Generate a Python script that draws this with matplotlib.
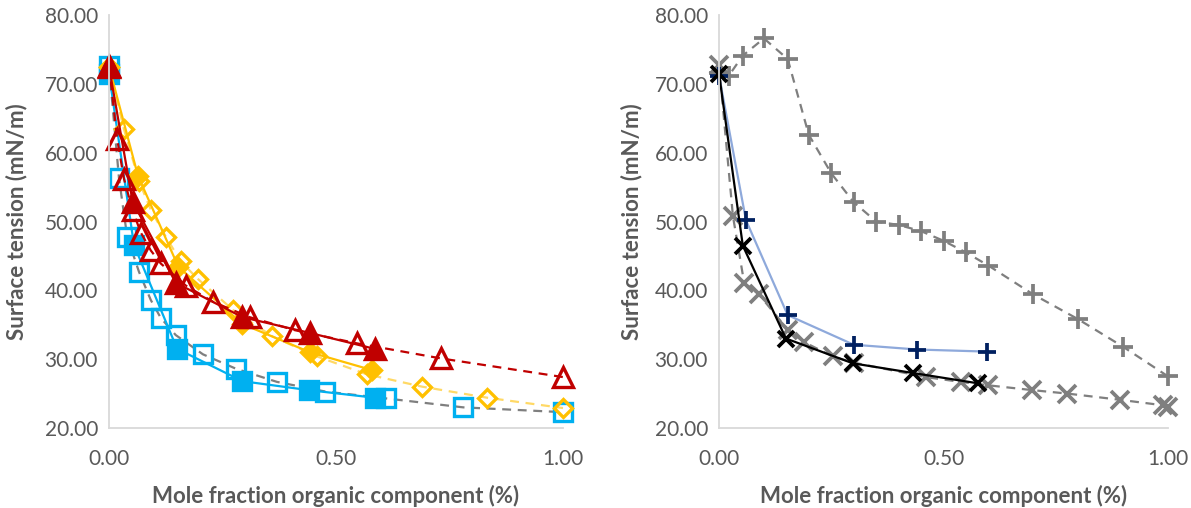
import matplotlib.pyplot as plt
from matplotlib.ticker import FormatStrFormatter

plt.rcParams['font.family'] = ['Lato', 'DejaVu Sans']

# ---- left panel data ----
blue_open_x = [0.0, 0.022, 0.04, 0.066, 0.092, 0.114, 0.147, 0.207, 0.28, 0.37, 0.476, 0.61, 0.78, 1.0]
blue_open_y = [72.6, 56.3, 47.8, 42.7, 38.6, 36.0, 33.5, 30.7, 28.6, 26.7, 25.3, 24.3, 23.0, 22.3]
blue_fill_x = [0.0, 0.055, 0.15, 0.294, 0.44, 0.585]
blue_fill_y = [71.5, 46.6, 31.5, 26.8, 25.5, 24.4]

gold_open_x = [0.0, 0.033, 0.066, 0.092, 0.125, 0.158, 0.195, 0.274, 0.36, 0.458, 0.568, 0.69, 0.833, 1.0]
gold_open_y = [72.5, 63.4, 55.9, 51.7, 47.8, 44.2, 41.7, 37.1, 33.3, 30.4, 27.8, 26.0, 24.4, 22.9]
gold_fill_x = [0.0, 0.064, 0.153, 0.294, 0.443, 0.58]
gold_fill_y = [72.5, 56.6, 43.4, 35.1, 31.0, 28.4]

red_open_x = [0.0, 0.018, 0.033, 0.052, 0.07, 0.092, 0.114, 0.169, 0.23, 0.31, 0.41, 0.546, 0.732, 1.0]
red_open_y = [72.6, 62.0, 56.2, 51.6, 48.4, 45.8, 43.9, 40.7, 38.3, 36.1, 34.2, 32.3, 30.1, 27.4]
red_fill_x = [0.0, 0.052, 0.147, 0.294, 0.443, 0.585]
red_fill_y = [72.5, 52.9, 41.1, 36.1, 33.8, 31.5]

# ---- right panel data ----
plus_gray_x = [0.0, 0.022, 0.053, 0.1, 0.153, 0.2, 0.25, 0.3, 0.35, 0.4, 0.45, 0.5, 0.55, 0.6, 0.7, 0.8, 0.9, 1.0]
plus_gray_y = [71.6, 71.2, 74.1, 76.6, 73.6, 62.6, 57.0, 52.8, 50.0, 49.5, 48.6, 47.2, 45.5, 43.6, 39.4, 35.8, 31.8, 27.5]
x_gray_x = [0.0, 0.031, 0.056, 0.089, 0.153, 0.189, 0.253, 0.3, 0.46, 0.538, 0.6, 0.698, 0.776, 0.893, 0.989, 1.0]
x_gray_y = [72.8, 50.8, 41.1, 39.4, 34.3, 32.5, 30.4, 29.5, 27.4, 26.7, 26.2, 25.5, 25.0, 24.1, 23.3, 23.0]
plus_navy_x = [0.0, 0.06, 0.153, 0.3, 0.442, 0.596]
plus_navy_y = [71.2, 50.2, 36.4, 32.1, 31.4, 31.1]
x_black_x = [0.0, 0.053, 0.149, 0.298, 0.431, 0.576]
x_black_y = [71.5, 46.5, 33.0, 29.4, 28.0, 26.5]

yticks = [20, 30, 40, 50, 60, 70, 80]
xticks = [0.0, 0.5, 1.0]

fig = plt.figure(figsize=(11.91, 5.08), dpi=100)
ax1 = fig.add_axes([109/1191, 80/508, 454/1191, 413/508])
ax2 = fig.add_axes([719/1191, 80/508, 449/1191, 413/508])

ms = 13
mew = 2.4

# left
ax1.plot(blue_open_x, blue_open_y, '--', color='#7F7F7F', lw=1.6, marker='s', ms=ms,
         mfc='none', mec='#00B0F0', mew=mew, dashes=(4, 3), clip_on=False)
ax1.plot(blue_fill_x, blue_fill_y, '-', color='#00B0F0', lw=1.6, marker='s', ms=ms,
         mfc='#00B0F0', mec='#00B0F0', mew=mew, clip_on=False)
ax1.plot(gold_open_x, gold_open_y, '--', color='#FFD966', lw=1.6, marker='D', ms=ms-3.5,
         mfc='none', mec='#FFC000', mew=mew, dashes=(4, 3), clip_on=False)
ax1.plot(gold_fill_x, gold_fill_y, '-', color='#FFC000', lw=1.6, marker='D', ms=ms-3.5,
         mfc='#FFC000', mec='#FFC000', mew=mew, clip_on=False)
ax1.plot(red_fill_x, red_fill_y, '-', color='#C00000', lw=1.6, marker='^', ms=ms+1,
         mfc='#C00000', mec='#C00000', mew=mew, clip_on=False)
ax1.plot(red_open_x, red_open_y, '--', color='#C00000', lw=1.6, marker='^', ms=ms+1,
         mfc='none', mec='#C00000', mew=mew, dashes=(4, 3), clip_on=False)

# right
ax2.plot(plus_gray_x, plus_gray_y, '--', color='#7F7F7F', lw=1.6, marker='+', ms=ms+1,
         mec='#7F7F7F', mew=2.7, dashes=(4, 3), clip_on=False)
ax2.plot(x_gray_x, x_gray_y, '--', color='#7F7F7F', lw=1.6, marker='x', ms=ms,
         mec='#7F7F7F', mew=2.7, dashes=(4, 3), clip_on=False)
ax2.plot(plus_navy_x, plus_navy_y, '-', color='#8EA9DB', lw=1.6, marker='+', ms=ms,
         mec='#002060', mew=2.7, clip_on=False)
ax2.plot(x_black_x, x_black_y, '-', color='black', lw=1.6, marker='x', ms=ms-1,
         mec='black', mew=2.7, clip_on=False)

for ax, ylx in ((ax1, -0.203), (ax2, -0.194)):
    ax.set_xlim(0, 1)
    ax.set_ylim(20, 80)
    ax.set_xticks(xticks)
    ax.set_yticks(yticks)
    ax.xaxis.set_major_formatter(FormatStrFormatter('%.2f'))
    ax.yaxis.set_major_formatter(FormatStrFormatter('%.2f'))
    for s in ('top', 'right'):
        ax.spines[s].set_visible(False)
    for s in ('left', 'bottom'):
        ax.spines[s].set_color('#D9D9D9')
        ax.spines[s].set_linewidth(1.3)
    ax.tick_params(axis='y', length=0, labelsize=15, colors='#595959', pad=8)
    ax.tick_params(axis='x', length=0, labelsize=15, colors='#595959', pad=15)
    ax.set_xlabel('Mole fraction organic component (%)', fontsize=16, fontweight='bold',
                  color='#595959', va='center')
    ax.set_ylabel('Surface tension (mN/m)', fontsize=16, fontweight='bold',
                  color='#595959', va='center')
    ax.xaxis.set_label_coords(0.5, -68/413)
    ax.yaxis.set_label_coords(ylx, 0.5)

plt.savefig('out.png', dpi=100)
